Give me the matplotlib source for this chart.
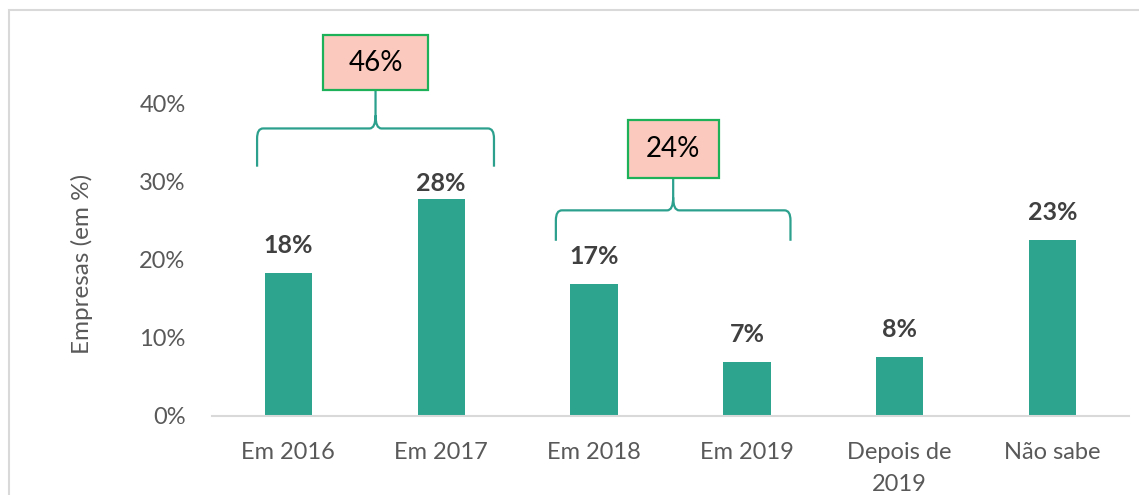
import matplotlib
matplotlib.use("Agg")
import matplotlib.pyplot as plt
from matplotlib.patches import Rectangle, PathPatch
from matplotlib.path import Path
import numpy as np

categories = ["Em 2016", "Em 2017", "Em 2018", "Em 2019", "Depois de\n2019", "Não sabe"]
values = [18.3, 27.7, 16.9, 6.9, 7.5, 22.5]
value_labels = ["18%", "28%", "17%", "7%", "8%", "23%"]
# the 28% label sits closer to its bar (under the brace)
label_gap = [2.0, 0.6, 2.0, 2.0, 2.0, 2.0]
yticks = [0, 10, 20, 30, 40]

# grouped totals shown above the braces
groups = [(0, 1), (2, 3)]
group_labels = ["46%", "24%"]

bar_color = "#2CA48E"
brace_color = "#2CA08D"
box_fill = "#FBC9BD"
box_edge = "#1DB15A"
text_gray = "#595959"
label_dark = "#404040"

plt.rcParams['font.family'] = ['Lato', 'DejaVu Sans']

W, H = 1139, 495
fig = plt.figure(figsize=(W / 100, H / 100), dpi=100)
# pixel frame of the plot area
x0, x1 = 212, 1129
y_zero, px_per_pct = 415.5, 7.8
ymax = 48
ytop = y_zero - ymax * px_per_pct
ax = fig.add_axes([x0 / W, 1 - y_zero / H, (x1 - x0) / W, (y_zero - ytop) / H])

x = np.arange(len(categories))
ax.bar(x, values, width=0.31, color=bar_color, zorder=2)
for xi, v, lab, g in zip(x, values, value_labels, label_gap):
    ax.text(xi, v + g, lab, ha="center", va="bottom", fontsize=18,
            fontweight="bold", color=label_dark)

ax.set_xlim(-0.5, len(categories) - 0.5)
ax.set_ylim(0, ymax)
ax.set_yticks(yticks)
ax.set_yticklabels([f"{t}%" for t in yticks])
ax.set_xticks(x)
ax.set_xticklabels(categories, linespacing=1.65)
ax.tick_params(axis="y", length=0, pad=19, labelsize=17, labelcolor=text_gray)
ax.tick_params(axis="x", length=0, pad=19, labelsize=17, labelcolor=text_gray)
for s in ["top", "right", "left"]:
    ax.spines[s].set_visible(False)
ax.spines["bottom"].set_color("#D9D9D9")
ax.spines["bottom"].set_linewidth(1.5)
ax.set_ylabel("Empresas (em %)", fontsize=17.5, color=text_gray)
ax.yaxis.set_label_coords(-0.13, 0.405)

# pixel -> data helpers for the brace shapes
dx = 1 / 153.0
dy = 1 / px_per_pct


def brace(xl, xr, xt, y_end, y_h, y_tip):
    rx, ry = 6 * dx, 10 * dy
    verts = [(xl, y_end), (xl, y_h - ry), (xl, y_h), (xl + rx, y_h),
             (xt - rx, y_h), (xt, y_h), (xt, y_h + ry * 1.3), (xt, y_tip),
             (xt, y_h + ry * 1.3), (xt, y_h), (xt + rx, y_h),
             (xr - rx, y_h), (xr, y_h), (xr, y_h - ry), (xr, y_end)]
    codes = [Path.MOVETO, Path.LINETO, Path.CURVE3, Path.CURVE3,
             Path.LINETO, Path.CURVE3, Path.CURVE3, Path.LINETO,
             Path.MOVETO, Path.CURVE3, Path.CURVE3,
             Path.LINETO, Path.CURVE3, Path.CURVE3, Path.LINETO]
    ax.add_patch(PathPatch(Path(verts, codes), fill=False, ec=brace_color,
                           lw=1.6, clip_on=False, zorder=3))


# brace extents relative to the grouped categories
brace_off = [(-0.205, 0.345), (-0.25, 0.285)]
brace_levels = [(31.9, 36.8, 41.7), (22.4, 26.3, 30.4)]
box_size = [(106 * dx, 55 * dy), (91 * dx, 58 * dy)]

for (a, b), (ol, orr), (ye, yh, yt), (bw, bh), lab in zip(
        groups, brace_off, brace_levels, box_size, group_labels):
    xl, xr = a + ol, b + orr
    xt = (xl + xr) / 2
    brace(xl, xr, xt, ye, yh, yt)
    ax.add_patch(Rectangle((xt - bw / 2, yt), bw, bh, fc=box_fill, ec=box_edge,
                           lw=1.6, clip_on=False, zorder=4))
    ax.text(xt, yt + bh / 2, lab, ha="center", va="center", fontsize=20,
            color="black", zorder=5)

# light chart border
fig.patches.append(Rectangle((9 / W, -0.1), 1.2, 1.1 - 10 / H, transform=fig.transFigure,
                             fill=False, ec="#D9D9D9", lw=1.5))

fig.savefig("out.png", dpi=100)
